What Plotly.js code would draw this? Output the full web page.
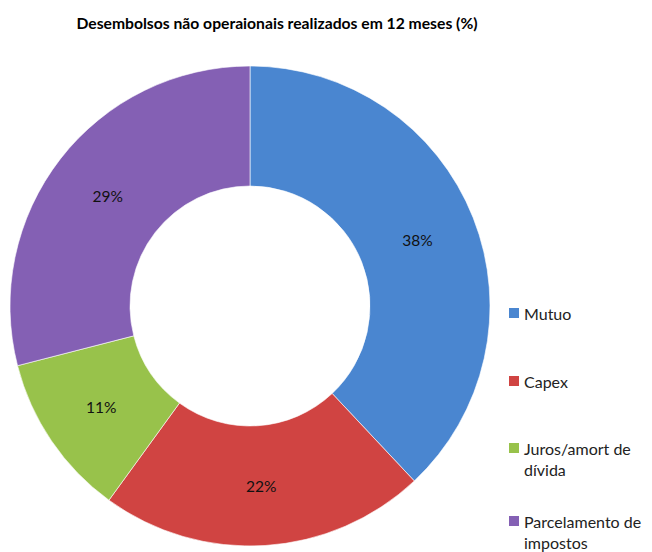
<!DOCTYPE html>
<html><head><meta charset="utf-8">
<script src="https://cdn.plot.ly/plotly-3.0.1.min.js"></script>
<style>body{margin:0;padding:0;background:#fff}#chart{width:652px;height:552px}</style>
</head><body><div id="chart"></div>
<script>
const categories = ["Mutuo", "Capex", "Juros/amort de dívida", "Parcelamento de impostos"];
const legendLabels = ["Mutuo", "Capex", "Juros/amort de<br>dívida", "Parcelamento de<br>impostos"];
const values = [38, 22, 11, 29];
const colors = ["#4a86d0", "#d04442", "#98c24b", "#8460b4"];
const titleText = "Desembolsos não operaionais realizados em 12 meses (%)";

const legendY = [313, 381, 448, 521];
const annotations = [];
const shapes = [];
categories.forEach((c, i) => {
  const yTop = legendY[i] - 11;
  annotations.push({
    xref: "paper", yref: "paper", x: 522 / 652, y: 1 - yTop / 552,
    xanchor: "left", yanchor: "top", align: "left",
    text: legendLabels[i], showarrow: false,
    font: {family: "Lato, 'Open Sans', sans-serif", size: 16, color: "#222"}
  });
  shapes.push({
    type: "rect", xref: "paper", yref: "paper",
    x0: 509 / 652, x1: 519 / 652,
    y0: 1 - (legendY[i] + 5) / 552, y1: 1 - (legendY[i] - 5) / 552,
    fillcolor: colors[i], line: {width: 0}
  });
});

const data = [{
  type: "pie",
  labels: categories,
  values: values,
  hole: 0.5,
  sort: false,
  direction: "clockwise",
  rotation: 0,
  marker: {colors: colors, line: {color: "rgba(255,255,255,0.6)", width: 1}},
  texttemplate: "%{percent:.0%}",
  textposition: "inside",
  insidetextorientation: "horizontal",
  textfont: {family: "Lato, 'Open Sans', sans-serif", size: 15.5, color: "#111"},
  domain: {x: [9 / 652, 491 / 652], y: [1 - 546 / 552, 1 - 66 / 552]},
  showlegend: false,
  hoverinfo: "label+percent"
}];

const layout = {
  width: 652, height: 552,
  margin: {l: 0, r: 0, t: 0, b: 0},
  paper_bgcolor: "#fff",
  title: {text: "<b>" + titleText + "</b>", x: 277 / 652, xanchor: "center", y: 1 - 24 / 552, yanchor: "middle",
          font: {family: "Lato, 'Open Sans', sans-serif", size: 15.7, color: "#000"}},
  annotations: annotations,
  shapes: shapes,
  showlegend: false
};
Plotly.newPlot("chart", data, layout, {displayModeBar: false});
</script></body></html>
